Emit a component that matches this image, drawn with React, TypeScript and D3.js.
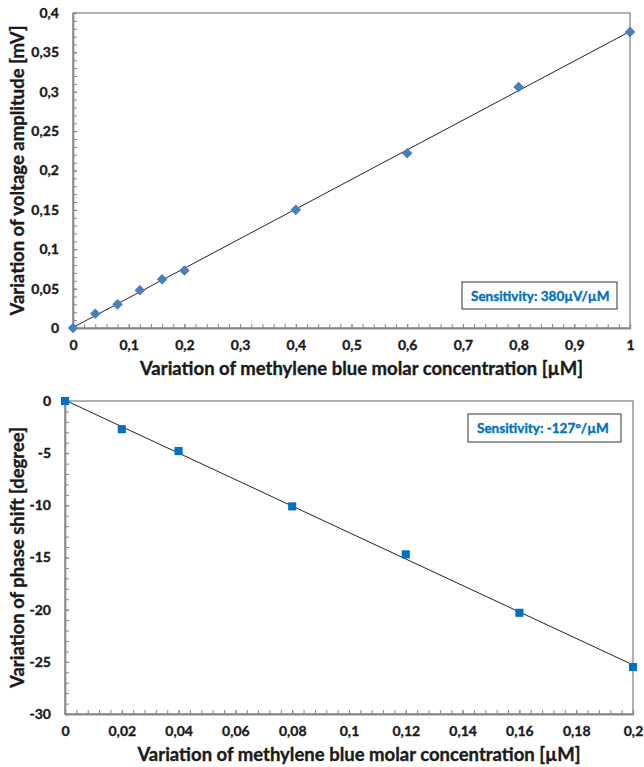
import React, { useEffect, useRef } from "react";
import * as d3 from "d3";

// top chart: voltage amplitude
const ampConc = [0, 0.04, 0.08, 0.12, 0.16, 0.2, 0.4, 0.6, 0.8, 1];
const ampValues = [0, 0.018, 0.03, 0.048, 0.062, 0.073, 0.15, 0.222, 0.306, 0.376];
const ampYTicks = [0, 0.05, 0.1, 0.15, 0.2, 0.25, 0.3, 0.35, 0.4];
const ampXTicks = [0, 0.1, 0.2, 0.3, 0.4, 0.5, 0.6, 0.7, 0.8, 0.9, 1];

// bottom chart: phase shift
const phaseConc = [0, 0.02, 0.04, 0.08, 0.12, 0.16, 0.2];
const phaseValues = [0, -2.7, -4.8, -10.1, -14.7, -20.3, -25.5];
const phaseYTicks = [0, -5, -10, -15, -20, -25, -30];
const phaseXTicks = [0, 0.02, 0.04, 0.06, 0.08, 0.1, 0.12, 0.14, 0.16, 0.18, 0.2];

const xTitle = "Variation of methylene blue molar concentration [µM]";
const ampYTitle = "Variation of voltage amplitude [mV]";
const phaseYTitle = "Variation of phase shift [degree]";
const ampNote = "Sensitivity: 380µV/µM";
const phaseNote = "Sensitivity: -127°/µM";

const FONT = "Lato, 'Open Sans', sans-serif";
const AXIS = "#868686";
const INK = "#1a1a1a";

const fmt = (d: number) => String(+d.toFixed(3)).replace(".", ",");

function fit(xs: number[], ys: number[]) {
    const mx = d3.mean(xs)!;
    const my = d3.mean(ys)!;
    const b = d3.sum(xs, (x, i) => (x - mx) * (ys[i] - my)) / d3.sum(xs, x => (x - mx) ** 2);
    return { b, a: my - b * mx };
}

// bold text, thickened a little so Lato looks closer to Calibri bold
function boldText(sel: any, size: number, color: string) {
    return sel.attr("font-family", FONT).attr("font-weight", "bold")
        .attr("font-size", size).attr("fill", color)
        .attr("stroke", color).attr("stroke-width", 0.35);
}

function drawPanel(svg: any, opt: any) {
    const { left, right, top, bottom, xDomain, yDomain, xTicks, yTicks, xMinor, yMinor,
        xs, ys, yTitle, note, noteBox, marker, color } = opt;

    const x = d3.scaleLinear().domain(xDomain).range([left, right]);
    const y = d3.scaleLinear().domain(yDomain).range([bottom, top]);
    const g = svg.append("g");

    // frame
    g.append("rect")
        .attr("x", left).attr("y", top)
        .attr("width", right - left).attr("height", bottom - top)
        .attr("fill", "none").attr("stroke", AXIS).attr("stroke-width", 1.3);

    const styleAxis = (ax: any) => {
        ax.select(".domain").attr("stroke", AXIS).attr("stroke-width", 1.3);
        ax.selectAll(".tick line").attr("stroke", AXIS);
        boldText(ax.selectAll("text"), 14, INK);
    };

    // minor ticks
    g.append("g").attr("transform", `translate(0,${bottom})`)
        .call(d3.axisBottom(x).tickValues(xMinor).tickSize(-4).tickFormat(() => ""))
        .call(styleAxis);
    g.append("g").attr("transform", `translate(${left},0)`)
        .call(d3.axisLeft(y).tickValues(yMinor).tickSize(-4).tickFormat(() => ""))
        .call(styleAxis);

    // major ticks
    g.append("g").attr("transform", `translate(0,${bottom})`)
        .call(d3.axisBottom(x).tickValues(xTicks).tickSizeInner(-4).tickSizeOuter(0).tickPadding(12).tickFormat(fmt))
        .call(styleAxis);
    g.append("g").attr("transform", `translate(${left},0)`)
        .call(d3.axisLeft(y).tickValues(yTicks).tickSizeInner(-4).tickSizeOuter(0).tickPadding(14).tickFormat(fmt))
        .call(styleAxis);

    // trend line
    const { a, b } = fit(xs, ys);
    g.append("line")
        .attr("x1", x(xDomain[0])).attr("y1", y(a + b * xDomain[0]))
        .attr("x2", x(xDomain[1])).attr("y2", y(a + b * xDomain[1]))
        .attr("stroke", "#222").attr("stroke-width", 1);

    // markers
    const isDiamond = marker === "diamond";
    g.selectAll("path.pt")
        .data(xs)
        .enter()
        .append("path")
        .attr("d", d3.symbol(d3.symbolSquare, isDiamond ? 56 : 66)())
        .attr("fill", color)
        .attr("transform", (d: number, i: number) =>
            `translate(${x(d)},${y(ys[i])})` + (isDiamond ? " rotate(45)" : ""));

    // axis titles
    boldText(g.append("text"), 18.5, INK)
        .attr("x", (left + right) / 2 + 10).attr("y", bottom + 47)
        .attr("text-anchor", "middle")
        .text(xTitle);
    boldText(g.append("text"), 18.5, INK)
        .attr("transform", `translate(24,${(top + bottom) / 2}) rotate(-90)`)
        .attr("text-anchor", "middle")
        .text(yTitle);

    // sensitivity box
    g.append("rect")
        .attr("x", noteBox[0]).attr("y", noteBox[1])
        .attr("width", noteBox[2]).attr("height", noteBox[3])
        .attr("fill", "#fff").attr("stroke", "#333").attr("stroke-width", 1);
    boldText(g.append("text"), 13.5, "#0070c0")
        .attr("x", noteBox[0] + 9).attr("y", noteBox[1] + noteBox[3] / 2 + 5)
        .text(note);
}

export default function App() {
    const ref = useRef<SVGSVGElement>(null);

    useEffect(() => {
        const svg = d3.select(ref.current);
        svg.selectAll("*").remove();

        drawPanel(svg, {
            left: 73, right: 630, top: 13, bottom: 328,
            xDomain: [0, 1], yDomain: [0, 0.4],
            xTicks: ampXTicks, yTicks: ampYTicks,
            xMinor: d3.range(0, 51).map(i => i * 0.02),
            yMinor: d3.range(0, 41).map(i => i * 0.01),
            xs: ampConc, ys: ampValues,
            yTitle: ampYTitle, note: ampNote,
            noteBox: [462, 282, 155, 27],
            marker: "diamond", color: "#4a7ebb",
        });

        drawPanel(svg, {
            left: 65, right: 633, top: 401, bottom: 714,
            xDomain: [0, 0.2], yDomain: [-30, 0],
            xTicks: phaseXTicks, yTicks: phaseYTicks,
            xMinor: d3.range(0, 51).map(i => i * 0.004),
            yMinor: d3.range(0, 31).map(i => -i),
            xs: phaseConc, ys: phaseValues,
            yTitle: phaseYTitle, note: phaseNote,
            noteBox: [468, 414, 153, 28],
            marker: "square", color: "#0070c0",
        });
    }, []);

    return (
        <svg ref={ref} width={644} height={767}
            style={{ position: "absolute", left: 0, top: 0, background: "#fff" }} />
    );
}
